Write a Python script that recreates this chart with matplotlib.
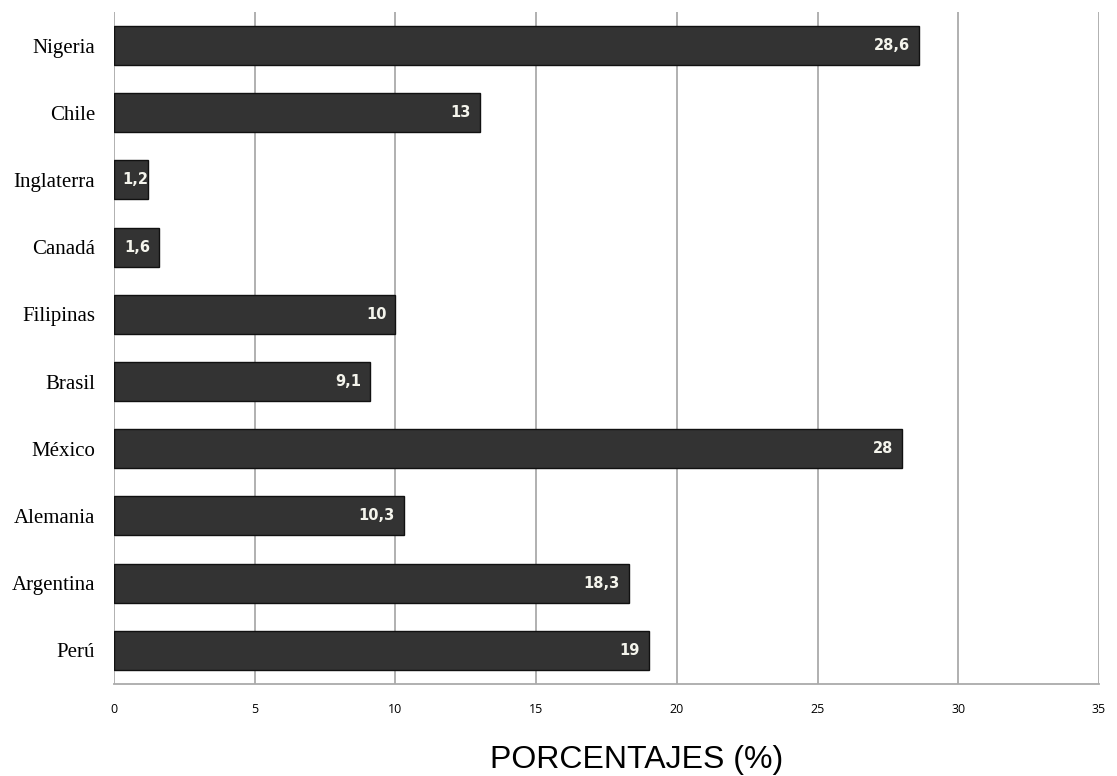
import matplotlib.pyplot as plt

# datos
paises = ['Nigeria', 'Chile', 'Inglaterra', 'Canadá', 'Filipinas',
          'Brasil', 'México', 'Alemania', 'Argentina', 'Perú']
porcentajes = [28.6, 13, 1.2, 1.6, 10, 9.1, 28, 10.3, 18.3, 19]
etiquetas = ['28,6', '13', '1,2', '1,6', '10', '9,1', '28', '10,3', '18,3', '19']
xticks = [0, 5, 10, 15, 20, 25, 30, 35]

fig = plt.figure(figsize=(11.17, 7.76), dpi=100)
ax = fig.add_axes([0.1021, 0.1186, 0.8818, 0.8660])

pos = list(range(len(paises)))
bars = ax.barh(pos, porcentajes, height=0.58, color='#333333',
               edgecolor='#111111', linewidth=1.0, zorder=3)

for b, txt in zip(bars, etiquetas):
    y = b.get_y() + b.get_height() / 2
    if b.get_width() < 1.4:
        # barra muy corta: la etiqueta empieza al inicio
        ax.annotate(txt, (0, y), xytext=(6, 0), textcoords='offset points',
                    ha='left', va='center', color='#f4f4ec',
                    fontsize=10.5, fontweight='bold', family='DejaVu Sans', zorder=4)
    else:
        ax.annotate(txt, (b.get_width(), y), xytext=(-6.5, 0), textcoords='offset points',
                    ha='right', va='center', color='#f4f4ec',
                    fontsize=10.5, fontweight='bold', family='DejaVu Sans', zorder=4)

ax.set_yticks(pos)
ax.set_yticklabels(paises, family='Liberation Serif', fontsize=15)
ax.set_ylim(9.5, -0.5)
ax.set_xlim(0, 35)
ax.set_xticks(xticks)
ax.set_xticklabels([str(x) for x in xticks], fontsize=9, family='Open Sans')
ax.tick_params(axis='both', length=0)
ax.tick_params(axis='x', pad=14)
ax.tick_params(axis='y', pad=13.5)

ax.grid(axis='x', color='#aaaaaa', linewidth=1.3, zorder=0)
for s in ['top', 'left', 'right']:
    ax.spines[s].set_visible(False)
ax.spines['bottom'].set_color('#aaaaaa')
ax.spines['bottom'].set_linewidth(1.3)

fig.text(637 / 1117, 1 - 760 / 776, 'PORCENTAJES (%)', family='Liberation Sans',
         fontsize=23, ha='center', va='center')

fig.savefig('out.png', dpi=100)
